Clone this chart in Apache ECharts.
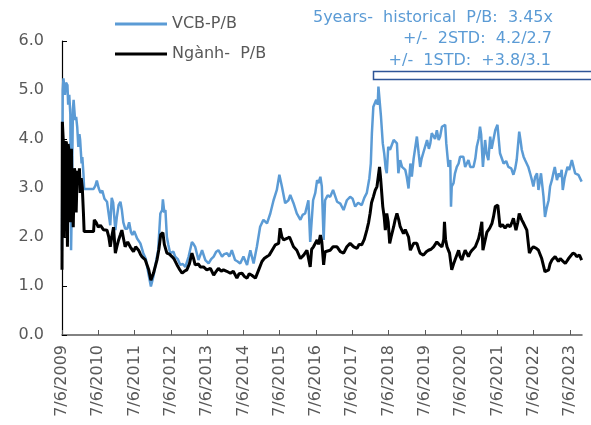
<!DOCTYPE html>
<html>
<head>
<meta charset="utf-8">
<script src="https://cdn.jsdelivr.net/npm/echarts@6/dist/echarts.min.js"></script>
<style>
  html, body { margin: 0; padding: 0; background: #fff; }
  #chart { width: 591px; height: 425px; }
</style>
</head>
<body>
<div id="chart"></div>
<script>
// ---- Data (x = decimal year; the tick "7/6/YYYY" sits at YYYY.43) ----
const seriesNames = ['VCB-P/B', 'Ngành-  P/B'];
const tickYears = [2009, 2010, 2011, 2012, 2013, 2014, 2015, 2016, 2017, 2018, 2019, 2020, 2021, 2022, 2023];
const tickLabels = tickYears.map(y => '7/6/' + y);
const yTickValues = [0, 1, 2, 3, 4, 5, 6];
const annotationLines = [
  '5years-  historical  P/B:  3.45x',
  '+/-  2STD:  4.2/2.7',
  '+/-  1STD:  +3.8/3.1'
];

const vcbX = [
  2009.43,2009.45,2009.47,2009.51,2009.54,2009.58,2009.60,2009.63,2009.66,2009.68,2009.70,2009.73,2009.75,2009.79,2009.82,2009.85,2009.88,2009.91,2009.93,2009.97,2009.99,
  2010.02,2010.04,2010.30,2010.35,2010.39,2010.44,2010.49,2010.54,2010.60,2010.67,2010.71,2010.76,2010.80,2010.84,2010.90,2010.94,2010.99,
  2011.04,2011.08,2011.12,2011.17,2011.23,2011.28,2011.33,2011.37,2011.42,2011.50,2011.59,2011.67,2011.74,2011.81,2011.88,2011.95,
  2012.01,2012.08,2012.14,2012.19,2012.21,2012.25,2012.28,2012.32,2012.36,2012.41,2012.50,2012.55,2012.62,2012.69,2012.76,2012.83,2012.92,
  2013.01,2013.06,2013.10,2013.19,2013.29,2013.38,2013.47,2013.54,2013.61,2013.68,2013.74,2013.84,2013.90,2013.98,
  2014.04,2014.11,2014.20,2014.27,2014.34,2014.43,2014.53,2014.58,2014.62,2014.71,2014.80,2014.89,2014.98,
  2015.08,2015.17,2015.26,2015.35,2015.42,2015.49,2015.58,2015.67,2015.72,2015.81,2015.90,
  2016.00,2016.06,2016.13,2016.22,2016.27,2016.35,2016.41,2016.46,2016.50,2016.55,2016.59,2016.64,2016.68,2016.75,2016.82,2016.90,
  2017.01,2017.10,2017.19,2017.28,2017.37,2017.44,2017.51,2017.59,2017.69,2017.76,2017.83,2017.90,2017.94,2017.97,
  2018.01,2018.09,2018.13,2018.15,2018.18,2018.22,2018.27,2018.31,2018.35,2018.38,2018.42,2018.47,2018.57,2018.61,2018.66,2018.70,2018.75,2018.80,2018.84,2018.89,2018.93,2018.98,
  2019.03,2019.07,2019.12,2019.16,2019.21,2019.26,2019.30,2019.34,2019.39,2019.49,2019.54,2019.58,2019.62,2019.67,2019.71,2019.76,2019.81,2019.85,2019.90,2019.94,2019.99,
  2020.02,2020.08,2020.13,2020.15,2020.17,2020.22,2020.26,2020.31,2020.36,2020.40,2020.49,2020.54,2020.63,2020.68,2020.77,2020.82,2020.86,2020.91,2020.95,2020.98,
  2021.03,2021.09,2021.13,2021.18,2021.23,2021.27,2021.32,2021.37,2021.43,2021.46,2021.50,2021.60,2021.67,2021.73,2021.81,2021.87,2021.92,2021.96,
  2022.03,2022.07,2022.10,2022.15,2022.19,2022.28,2022.33,2022.38,2022.42,2022.47,2022.52,2022.56,2022.63,2022.65,2022.70,2022.74,2022.79,2022.84,2022.88,2022.93,2022.97,
  2023.01,2023.07,2023.12,2023.16,2023.20,2023.23,2023.28,2023.32,2023.36,2023.41,2023.48,2023.51,2023.57,2023.66,2023.71,2023.75
];
const vcbPB = [
  1.73,5.0,5.24,4.9,5.15,5.1,4.7,4.9,4.5,1.73,2.6,4.6,4.8,4.39,4.45,4.24,3.84,4.1,3.98,3.5,3.63,
  3.3,2.98,2.98,3.05,3.15,3.0,2.9,2.95,2.78,2.72,2.7,2.24,2.8,2.7,2.14,2.4,2.65,
  2.72,2.55,2.3,2.17,2.17,2.3,2.1,2.04,2.12,1.97,1.87,1.67,1.55,1.26,0.99,1.2,
  1.45,1.73,2.48,2.55,2.77,2.5,2.55,2.0,1.84,1.67,1.7,1.6,1.55,1.43,1.45,1.39,1.6,
  1.9,1.85,1.8,1.53,1.73,1.53,1.46,1.55,1.6,1.7,1.73,1.6,1.65,1.67,
  1.6,1.73,1.53,1.5,1.46,1.6,1.43,1.6,1.73,1.46,1.8,2.21,2.35,
  2.28,2.48,2.75,2.96,3.27,3.03,2.69,2.75,2.86,2.69,2.48,
  2.35,2.45,2.48,2.75,1.9,2.75,2.9,3.16,3.1,3.23,3.03,1.94,2.75,2.85,2.82,2.96,
  2.72,2.68,2.55,2.75,2.82,2.78,2.62,2.7,2.65,2.8,2.9,3.2,3.5,4.12,
  4.66,4.8,4.7,5.07,5.1,4.46,3.91,3.7,3.4,3.3,3.84,3.78,3.98,3.95,3.91,3.3,3.57,3.43,3.43,3.37,3.23,2.99,
  3.5,3.23,3.6,3.57,4.05,3.7,3.43,3.6,3.64,3.98,3.8,3.91,4.12,4.12,4.0,4.18,3.98,4.05,4.25,4.29,4.29,
  3.91,3.43,3.57,2.62,3.03,3.1,3.3,3.43,3.5,3.64,3.64,3.43,3.57,3.43,3.43,3.6,3.84,4.0,4.25,4.1,
  3.43,3.98,3.7,3.57,4.05,3.8,3.78,4.18,4.29,4.25,3.71,3.5,3.55,3.43,3.4,3.27,3.4,3.57,
  4.15,3.95,3.78,3.64,3.57,3.43,3.3,3.16,3.03,3.23,3.3,2.96,3.3,3.16,2.82,2.41,2.6,2.75,3.03,3.16,3.3,
  3.43,3.16,3.3,3.23,3.37,2.96,3.2,3.23,3.43,3.37,3.57,3.6,3.3,3.27,3.23,3.13
];

const nganhX = [
  2009.43,2009.44,2009.47,2009.49,2009.52,2009.55,2009.58,2009.60,2009.63,2009.66,2009.69,2009.71,2009.74,2009.77,2009.80,2009.82,2009.85,2009.88,2009.91,2009.93,2009.96,2009.99,
  2010.02,2010.04,2010.30,2010.32,2010.37,2010.43,2010.49,2010.57,2010.67,2010.72,2010.76,2010.80,2010.85,2010.90,2010.94,2010.99,
  2011.04,2011.08,2011.13,2011.17,2011.24,2011.31,2011.40,2011.46,2011.54,2011.59,2011.63,2011.72,2011.82,2011.88,2011.95,
  2012.05,2012.10,2012.15,2012.21,2012.25,2012.32,2012.39,2012.46,2012.52,2012.60,2012.66,2012.74,2012.80,2012.87,2012.94,
  2013.01,2013.06,2013.10,2013.19,2013.24,2013.33,2013.42,2013.52,2013.61,2013.68,2013.74,2013.82,2013.88,2013.97,
  2014.07,2014.15,2014.25,2014.31,2014.39,2014.45,2014.53,2014.59,2014.66,2014.76,2014.85,2014.94,
  2015.00,2015.08,2015.14,2015.22,2015.31,2015.40,2015.44,2015.49,2015.54,2015.63,2015.70,2015.75,2015.81,2015.90,
  2016.00,2016.09,2016.18,2016.27,2016.31,2016.36,2016.46,2016.50,2016.55,2016.59,2016.64,2016.68,2016.73,2016.82,2016.90,
  2017.01,2017.10,2017.19,2017.28,2017.37,2017.47,2017.56,2017.62,2017.69,2017.76,2017.83,2017.88,2017.92,2017.96,
  2018.01,2018.06,2018.11,2018.14,2018.18,2018.21,2018.27,2018.31,2018.34,2018.38,2018.42,2018.46,2018.50,2018.57,2018.61,2018.66,2018.71,2018.75,2018.84,2018.89,2018.93,2018.98,
  2019.03,2019.12,2019.21,2019.26,2019.30,2019.39,2019.47,2019.53,2019.60,2019.67,2019.76,2019.82,2019.90,2019.95,2019.97,
  2020.00,2020.04,2020.11,2020.17,2020.22,2020.26,2020.36,2020.40,2020.45,2020.50,2020.54,2020.63,2020.68,2020.73,2020.82,2020.91,2020.95,
  2021.00,2021.03,2021.08,2021.14,2021.19,2021.23,2021.28,2021.32,2021.37,2021.41,2021.44,2021.46,2021.50,2021.57,2021.64,2021.71,2021.78,2021.83,2021.87,2021.94,2021.99,
  2022.03,2022.10,2022.15,2022.19,2022.24,2022.28,2022.31,2022.36,2022.42,2022.50,2022.56,2022.61,2022.65,2022.70,2022.74,2022.79,2022.84,2022.88,2022.93,
  2023.02,2023.11,2023.16,2023.20,2023.30,2023.39,2023.43,2023.51,2023.57,2023.61,2023.69,2023.75
];
const nganhPB = [
  1.33,4.35,3.9,2.0,3.9,3.95,1.8,3.9,3.7,2.3,3.8,2.8,2.2,3.4,3.3,2.5,3.35,3.1,3.4,2.9,3.2,3.0,
  2.5,2.11,2.11,2.35,2.3,2.2,2.24,2.15,2.14,2.0,1.8,2.0,2.2,1.67,1.8,1.94,
  2.05,2.14,1.95,1.8,1.9,1.8,1.7,1.8,1.73,1.65,1.6,1.54,1.33,1.12,1.26,
  1.54,1.75,2.05,2.09,1.85,1.67,1.65,1.6,1.55,1.43,1.35,1.26,1.3,1.33,1.45,
  1.67,1.55,1.43,1.45,1.39,1.39,1.33,1.36,1.22,1.3,1.36,1.3,1.33,1.3,
  1.26,1.3,1.16,1.25,1.26,1.2,1.16,1.25,1.22,1.16,1.33,1.5,
  1.56,1.6,1.63,1.73,1.84,1.87,2.18,2.0,1.94,1.97,2.0,1.97,1.8,1.73,
  1.56,1.63,1.73,1.39,1.75,1.8,1.94,1.85,2.04,1.9,1.43,1.7,1.73,1.73,1.8,
  1.8,1.7,1.67,1.8,1.87,1.8,1.77,1.85,1.84,1.95,2.14,2.3,2.48,2.7,
  2.82,2.95,3.03,3.2,3.43,3.2,2.62,2.4,2.14,2.48,2.3,1.87,2.0,2.21,2.35,2.48,2.35,2.21,2.07,2.15,2.18,2.0,
  1.73,1.87,1.87,1.75,1.67,1.63,1.7,1.73,1.75,1.8,1.9,1.85,1.8,1.95,2.31,
  1.95,1.8,1.67,1.33,1.45,1.53,1.73,1.6,1.53,1.65,1.73,1.6,1.68,1.73,1.8,1.97,2.1,
  2.31,1.73,1.9,2.1,2.15,2.2,2.28,2.41,2.62,2.6,2.65,2.62,2.21,2.25,2.18,2.25,2.21,2.3,2.38,2.14,2.3,
  2.48,2.35,2.28,2.28,2.14,2.18,1.67,1.75,1.8,1.77,1.73,1.7,1.56,1.53,1.29,1.3,1.33,1.45,1.53,
  1.6,1.5,1.56,1.53,1.46,1.56,1.6,1.67,1.65,1.6,1.63,1.53
];

if (vcbX.length !== vcbPB.length) throw new Error('vcb length mismatch ' + vcbX.length + ' vs ' + vcbPB.length);
if (nganhX.length !== nganhPB.length) throw new Error('nganh length mismatch ' + nganhX.length + ' vs ' + nganhPB.length);

const TICK_OFFSET = 0.43; // 7 June as a fraction of the year
const tickValues = tickYears.map(y => y + TICK_OFFSET);
const vcbData = vcbX.map((x, i) => [x, vcbPB[i]]);
const nganhData = nganhX.map((x, i) => [x, nganhPB[i]]);

const FONT = 'DejaVu Sans';
const GRAY = '#595959';
const BLUE = '#5B9BD5';

const chart = echarts.init(document.getElementById('chart'), null, { renderer: 'canvas' });
chart.setOption({
  animation: false,
  backgroundColor: '#ffffff',
  textStyle: { fontFamily: FONT },
  grid: { left: 62, right: 9, top: 41, bottom: 90, containLabel: false },
  legend: {
    orient: 'vertical',
    left: 110,
    top: 11,
    itemWidth: 52,
    itemHeight: 3,
    itemGap: 14,
    icon: 'rect',
    data: seriesNames,
    textStyle: { fontFamily: FONT, fontSize: 16, color: GRAY }
  },
  xAxis: {
    type: 'value',
    min: 2009.43,
    max: 2023.76,
    splitLine: { show: false },
    axisLine: { show: true, lineStyle: { color: '#595959', width: 1.5 } },
    axisTick: { show: true, inside: true, length: 5, customValues: tickValues, lineStyle: { color: '#595959', width: 1 } },
    axisLabel: {
      show: true,
      customValues: tickValues,
      rotate: 90,
      margin: 10,
      fontFamily: FONT,
      fontSize: 16,
      color: GRAY,
      formatter: v => tickLabels[Math.round(v - TICK_OFFSET) - tickYears[0]] || ''
    }
  },
  yAxis: {
    type: 'value',
    min: 0,
    max: 6,
    interval: 1,
    splitLine: { show: false },
    axisLine: { show: true, lineStyle: { color: '#000000', width: 1.2 } },
    axisTick: { show: true, inside: true, length: 5, customValues: yTickValues, lineStyle: { color: '#000000' } },
    axisLabel: {
      margin: 18,
      fontFamily: FONT,
      fontSize: 16,
      color: GRAY,
      formatter: v => v.toFixed(1)
    }
  },
  series: [
    {
      name: seriesNames[0],
      type: 'line',
      data: vcbData,
      showSymbol: false,
      symbol: 'none',
      lineStyle: { color: BLUE, width: 2.5 },
      itemStyle: { color: BLUE },
      z: 2
    },
    {
      name: seriesNames[1],
      type: 'line',
      data: nganhData,
      showSymbol: false,
      symbol: 'none',
      lineStyle: { color: '#000000', width: 3 },
      itemStyle: { color: '#000000' },
      z: 3
    }
  ],
  graphic: [
    {
      type: 'text', x: 553, y: 18, z: 10,
      style: { text: annotationLines[0], align: 'right', verticalAlign: 'middle', fill: BLUE, font: '16px "DejaVu Sans"' }
    },
    {
      type: 'text', x: 552, y: 39, z: 10,
      style: { text: annotationLines[1], align: 'right', verticalAlign: 'middle', fill: BLUE, font: '16px "DejaVu Sans"' }
    },
    {
      type: 'text', x: 551, y: 61, z: 10,
      style: { text: annotationLines[2], align: 'right', verticalAlign: 'middle', fill: BLUE, font: '16px "DejaVu Sans"' }
    },
    {
      type: 'rect', z: 10,
      shape: { x: 373.5, y: 71.5, width: 230, height: 8 },
      style: { fill: '#ffffff', stroke: '#2F5597', lineWidth: 1.5 }
    }
  ]
});
</script>
</body>
</html>
